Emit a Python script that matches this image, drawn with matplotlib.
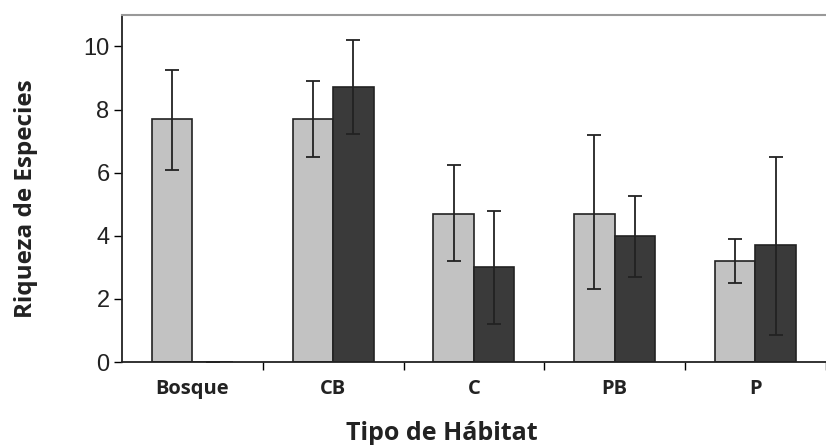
import matplotlib.pyplot as plt
import numpy as np

habitats = ['Bosque', 'CB', 'C', 'PB', 'P']

light = [7.7, 7.7, 4.7, 4.7, 3.2]
light_hi = [9.25, 8.9, 6.25, 7.2, 3.9]
light_lo = [6.1, 6.5, 3.2, 2.3, 2.5]

dark = [0, 8.7, 3.0, 4.0, 3.7]
dark_hi = [0, 10.22, 4.8, 5.25, 6.5]
dark_lo = [0, 7.24, 1.2, 2.7, 0.85]

plt.rcParams['font.family'] = ['Liberation Sans', 'DejaVu Sans']
label_font = ['Open Sans', 'DejaVu Sans']

fig = plt.figure(figsize=(8.26, 4.45), dpi=100)
ax = fig.add_axes([0.1477, 0.1865, 0.852, 0.78])

x = np.arange(len(habitats))
w = 0.287

light = np.array(light)
dark = np.array(dark)
light_err = [light - np.array(light_lo), np.array(light_hi) - light]
dark_err = [dark - np.array(dark_lo), np.array(dark_hi) - dark]

ax.bar(x - w / 2, light, w, color='#c2c2c2', edgecolor='#222222', linewidth=1.2,
       yerr=light_err, error_kw=dict(ecolor='#222222', elinewidth=1.3, capsize=5, capthick=1.3))
ax.bar(x + w / 2, dark, w, color='#3a3a3a', edgecolor='#222222', linewidth=1.2,
       yerr=dark_err, error_kw=dict(ecolor='#222222', elinewidth=1.3, capsize=5, capthick=1.3))

ax.set_xlim(-0.5, 4.42)
ax.set_ylim(0, 11)
ax.set_yticks([0, 2, 4, 6, 8, 10])
ax.tick_params(axis='y', labelsize=17, length=6, width=1, direction='out', pad=3, labelcolor='#222222')

ax.set_xticks(x)
ax.set_xticklabels(habitats, fontsize=14.5, fontweight='bold', family=label_font, color='#222222')
ax.tick_params(axis='x', length=0, pad=12)
ax.set_xticks(np.arange(len(habitats)) + 0.5, minor=True)
ax.tick_params(axis='x', which='minor', length=6, width=1, direction='out')

for s in ['left', 'bottom']:
    ax.spines[s].set_color('#222222')
    ax.spines[s].set_linewidth(1.3)
ax.spines['top'].set_color('#999999')
ax.spines['top'].set_linewidth(1.5)
ax.spines['right'].set_visible(False)

fig.text(0.032, 0.553, 'Riqueza de Especies', rotation=90, ha='center', va='center',
         fontsize=17.5, fontweight='bold', family=label_font, color='#222222')
fig.text(0.535, 0.012, 'Tipo de Hábitat', ha='center', va='baseline',
         fontsize=18, fontweight='bold', family=label_font, color='#222222')

fig.savefig('out.png', dpi=100)
